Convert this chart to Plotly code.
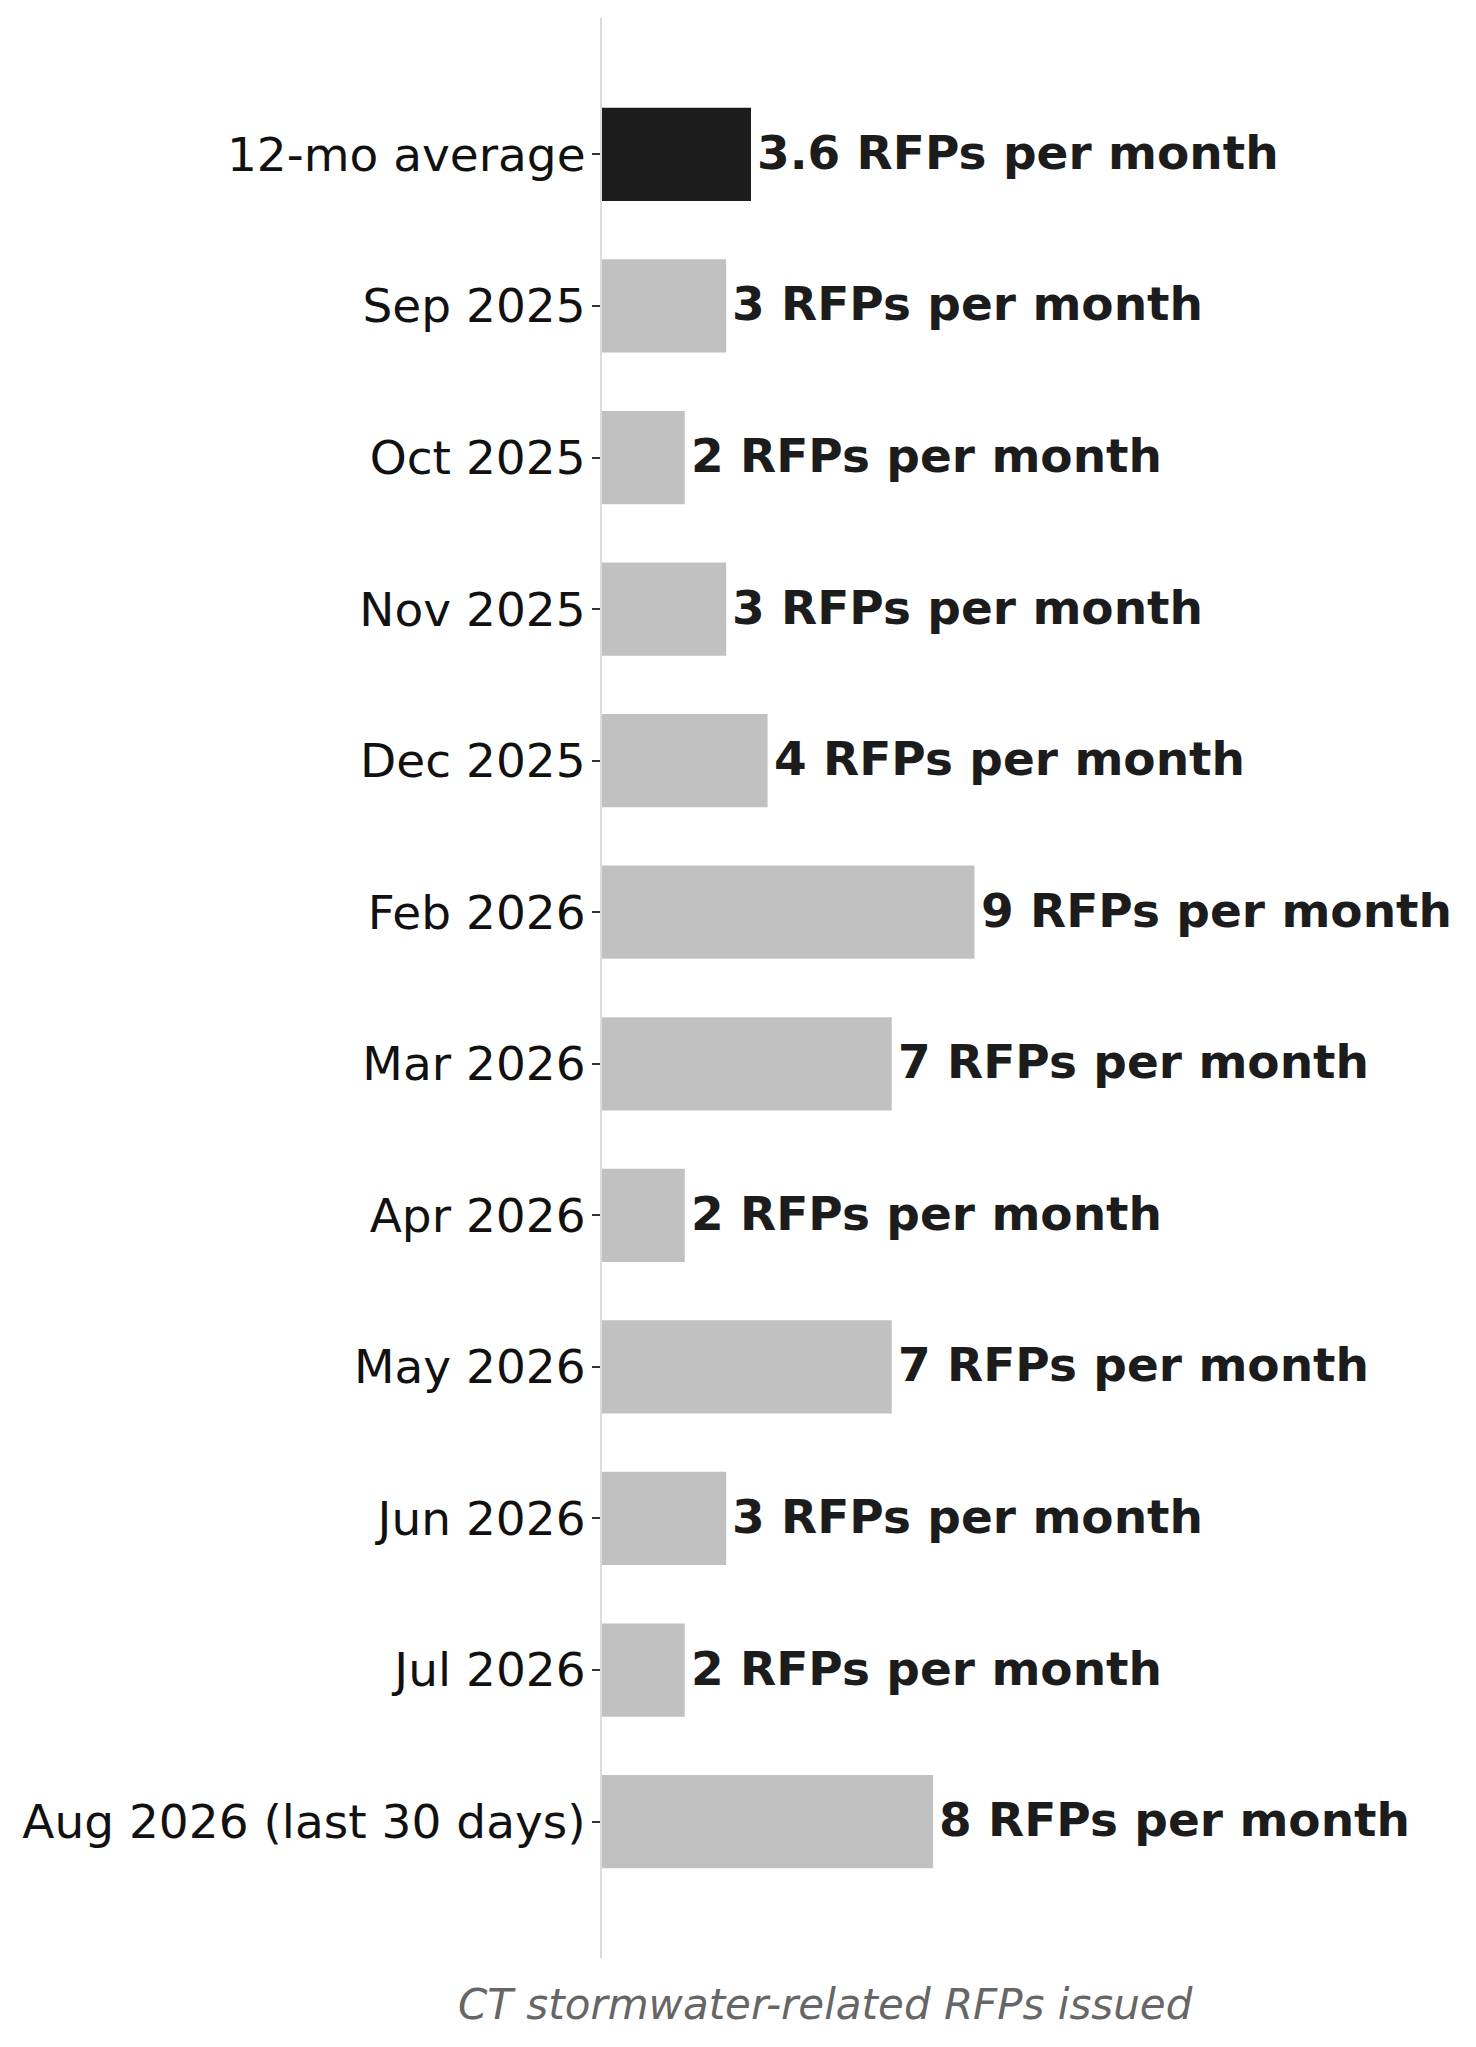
import plotly.graph_objects as go

# data
categories = ['12-mo average', 'Sep 2025', 'Oct 2025', 'Nov 2025', 'Dec 2025', 'Feb 2026',
              'Mar 2026', 'Apr 2026', 'May 2026', 'Jun 2026', 'Jul 2026', 'Aug 2026 (last 30 days)']
rfps = [3.6, 3, 2, 3, 4, 9, 7, 2, 7, 3, 2, 8]
value_labels = ['3.6', '3', '2', '3', '4', '9', '7', '2', '7', '3', '2', '8']
axis_title = 'CT stormwater-related RFPs issued'

bar_colors = ['#1c1c1c'] + ['#c1c1c1'] * (len(categories) - 1)
font_family = 'DejaVu Sans'

fig = go.Figure()
fig.add_trace(go.Bar(
    y=categories,
    x=rfps,
    orientation='h',
    width=0.615,
    marker=dict(color=bar_colors, line=dict(width=0)),
    hoverinfo='skip',
))

# value labels next to each bar
for cat, val, lab in zip(categories, rfps, value_labels):
    fig.add_annotation(
        x=val, y=cat, xref='x', yref='y',
        text=f'<b>{lab} RFPs per month</b>',
        showarrow=False, xanchor='left', yanchor='middle',
        xshift=4, yshift=2,
        font=dict(family=font_family, size=47, color='#1c1c1c'),
    )

# axis title under the plot
fig.add_annotation(
    x=0.5, y=0, xref='paper', yref='paper',
    text=f'<i>{axis_title}</i>',
    showarrow=False, xanchor='center', yanchor='middle',
    yshift=-46,
    font=dict(family=font_family, size=42, color='#666666'),
)

# page body adds a small offset, so the figure is a bit smaller than the window
fig.update_layout(
    width=1460, height=2031,
    margin=dict(l=594, r=419, t=10, b=81),
    plot_bgcolor='white', paper_bgcolor='white',
    showlegend=False,
    font=dict(family=font_family, size=47, color='#111111'),
)
fig.update_xaxes(
    range=[0, 10.8], showgrid=False, zeroline=False,
    showticklabels=False, ticks='', showline=False,
)
fig.update_yaxes(
    autorange=False, range=[len(categories) - 0.1, -0.9],
    showgrid=False, zeroline=False,
    showline=True, linecolor='#dcdcdc', linewidth=2,
    ticks='outside', ticklen=8, tickwidth=2, tickcolor='#333333',
    ticklabelstandoff=-3,
    tickfont=dict(family=font_family, size=47, color='#111111'),
)

fig.write_html('out.html')
